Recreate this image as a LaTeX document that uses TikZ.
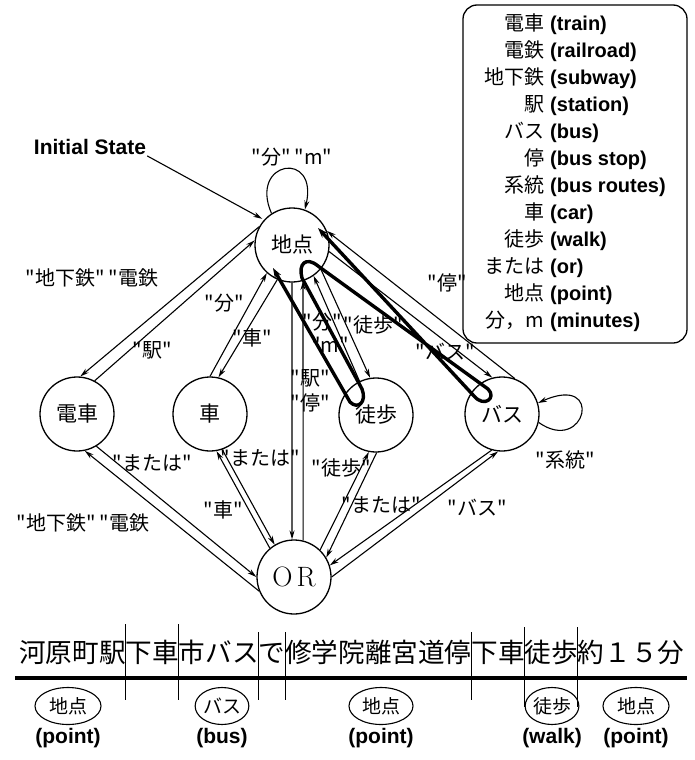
\documentclass[tikz,border=0pt]{standalone}
\usepackage{fontspec}
\usepackage{array}
\usetikzlibrary{arrows.meta, positioning, calc, shapes.geometric}
\newfontfamily\jafont{Noto Sans CJK JP}
\newfontfamily\enfont{Liberation Sans}

\begin{document}
\begin{tikzpicture}[
        x=1pt, y=-1pt,
        state/.style={circle, draw, line width=1.3pt, minimum size=74pt,
                      inner sep=0pt, font=\jafont\fontsize{21}{24}\selectfont},
        arr/.style={line width=1.1pt, -{Stealth[length=9pt, width=5pt]}},
        trace/.style={line width=3.4pt, line cap=round, line join=round,
                      {Stealth[length=10pt, width=7pt]}-{Stealth[length=10pt, width=7pt]}},
        lab/.style={inner sep=1pt, font=\jafont\fontsize{20}{25}\selectfont},
        eng/.style={inner sep=1pt, font=\enfont\bfseries\fontsize{21}{24}\selectfont},
        oval/.style={ellipse, draw, line width=1.1pt, minimum height=37pt,
                     inner sep=0pt, font=\jafont\fontsize{19}{21}\selectfont}
      ]
      \useasboundingbox (0,0) rectangle (694,760);

      \node[state] (P) at (292,245) {地点};
      \node[state] (T) at (77,414) {電車};
      \node[state] (C) at (210,414) {車};
      \node[state] (W) at (376,415) {徒歩};
      \node[state] (B) at (502,414) {バス};
      \node[state, font=\fontsize{28}{32}\selectfont] (O) at (294,577) {O\hspace{4pt}R};

      \node[eng] (init) at (90,147) {Initial State};
      \draw[arr, shorten >=2pt] (init.south east) -- (P.138);

      \draw[arr] (P.123) .. controls +(-23,-53) and +(14,-60) .. (P.70);
      \draw[arr] (B.347) .. controls +(47,33) and +(67,-30) .. (B.17);

      \draw[arr] (P.151) -- (T.85);
      \draw[arr] (T.62) -- (P.173);
      \draw[arr] (C.90) -- (P.228);
      \draw[arr] (P.247) -- (C.77);
      \draw[arr] (P.270) -- (O.93);
      \draw[arr] (O.76) -- (P.287);
      \draw[arr] (W.116) -- (P.305);
      \draw[arr] (P.320) -- (W.99);
      \draw[arr] (B.70) -- (P.22);
      \draw[arr] (P.350) -- (B.105);
      \draw[arr] (O.202) -- (T.282);
      \draw[arr] (T.301) -- (O.180);
      \draw[arr] (O.130) -- (C.280);
      \draw[arr] (C.289) -- (O.121);
      \draw[arr] (O.46) -- (W.259);
      \draw[arr] (W.271) -- (O.31);
      \draw[arr] (O.0) -- (B.264);
      \draw[arr] (B.254) -- (O.18);

      \draw[trace] ($(P)+(26,-17)$) -- (474,396)
          .. controls (484,408) and (497,398) .. (488,389)
          -- (318,266)
          .. controls (306,256) and (298,264) .. (302,278)
          -- (362,389)
          .. controls (367,402) and (358,410) .. (350,402)
          -- ($(P)+(-19,23)$);

      \node[lab] (lPP) at (292,157) {"分" "m"};
      \node[lab] (lBB) at (565,460) {"系統"};
      \node[lab] (lPT) at (92,278) {"地下鉄" "電鉄};
      \node[lab] (lTP) at (152,350) {"駅"};
      \node[lab] (lCP) at (224,303) {"分"};
      \node[lab] (lPC) at (252,338) {"車"};
      \node[lab, align=center] (lPO) at (310,391) {"駅"\\"停"};
      \node[lab] (lWP) at (322,322) {"分"};
      \node[lab] (lPW) at (373,325) {"徒歩"};
      \node[lab] (lWm) at (330,345) {"m"};
      \node[lab] (lBP) at (447,283) {"停"};
      \node[lab] (lPB) at (445,352) {"バス"};
      \node[lab] (lOT) at (152,463) {"または"};
      \node[lab] (lTO) at (83,523) {"地下鉄" "電鉄};
      \node[lab] (lOC) at (260,458) {"または"};
      \node[lab] (lCO) at (223,510) {"車"};
      \node[lab] (lOW) at (341,468) {"徒歩"};
      \node[lab] (lWO) at (381,505) {"または"};
      \node[lab] (lOB) at (477,508) {"バス"};

      \node[draw, line width=1.3pt, rounded corners=14pt, minimum width=224pt,
            minimum height=338pt, inner sep=0pt,
            font=\fontsize{20}{27}\selectfont] (legend) at (575,174) {%
        \begin{tabular}{@{}>{\jafont}r@{\hspace{6pt}}>{\enfont\bfseries}l@{}}
          電車 & (train)\\
          電鉄 & (railroad)\\
          地下鉄 & (subway)\\
          駅 & (station)\\
          バス & (bus)\\
          停 & (bus stop)\\
          系統 & (bus routes)\\
          車 & (car)\\
          徒歩 & (walk)\\
          または & (or)\\
          地点 & (point)\\
          分，m & (minutes)
        \end{tabular}};

      \node[anchor=west, inner sep=0pt, font=\jafont\fontsize{26.6}{30}\selectfont]
        (sent) at (19,652) {河原町駅下車市バスで修学院離宮道停下車徒歩約１５分};
      \draw[line width=4pt] (15,678) -- (687,678);
      \foreach \k in {4,6}
        \draw[line width=1pt] ($(sent.west)+(\k*26.6,-28)$) -- ++(0,76);
      \foreach \k in {9,10,17}
        \draw[line width=1pt] ($(sent.west)+(\k*26.6,-20)$) -- ++(0,68);
      \foreach \k in {19,21}
        \draw[line width=1pt] ($(sent.west)+(\k*26.6,-25)$) -- ++(0,80);

      \node[oval, minimum width=66pt] (o1) at (68,706) {地点};
      \node[oval, minimum width=53pt] (o2) at (222,706) {バス};
      \node[oval, minimum width=64pt] (o3) at (381,706) {地点};
      \node[oval, minimum width=52pt] (o4) at (552,706) {徒歩};
      \node[oval, minimum width=66pt] (o5) at (636,706) {地点};
      \node[eng, below=2pt of o1] (e1) {(point)};
      \node[eng, below=2pt of o2] (e2) {(bus)};
      \node[eng, below=2pt of o3] (e3) {(point)};
      \node[eng, below=2pt of o4] (e4) {(walk)};
      \node[eng, below=2pt of o5] (e5) {(point)};
    \end{tikzpicture}
\end{document}
